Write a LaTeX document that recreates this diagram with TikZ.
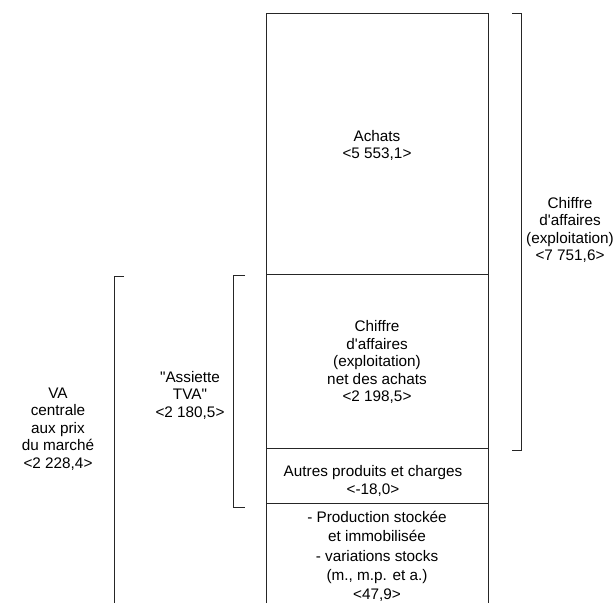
\documentclass[tikz,border=0pt]{standalone}
\usepackage{fontspec}
\setmainfont{Liberation Sans}[Ligatures=TeXOff]
\begin{document}
\begin{tikzpicture}[x=1pt,y=-1pt,
  ln/.style={line width=1pt,black!85},
  lbl/.style={align=center,inner sep=0pt,font=\fontsize{15.3}{17.5}\selectfont}]
\useasboundingbox (0,0) rectangle (616,603);
% main column
\coordinate (tl) at (266,13);
\coordinate (tr) at (488,13);
\coordinate (bl) at (266,603);
\coordinate (br) at (488,603);
\coordinate (l1) at (266,274); \coordinate (r1) at (488,274);
\coordinate (l2) at (266,448); \coordinate (r2) at (488,448);
\coordinate (l3) at (266,503); \coordinate (r3) at (488,503);
\draw[ln] (bl) -- (tl) -- (tr) -- (br);
\draw[ln] (l1) -- (r1);
\draw[ln] (l2) -- (r2);
\draw[ln] (l3) -- (r3);
% brackets
\coordinate (ca1) at (512,13); \coordinate (ca2) at (521,13);
\coordinate (ca3) at (521,450); \coordinate (ca4) at (512,450);
\draw[ln] (ca1) -- (ca2) -- (ca3) -- (ca4);
\coordinate (as1) at (245,275); \coordinate (as2) at (233,275);
\coordinate (as3) at (233,507); \coordinate (as4) at (245,507);
\draw[ln] (as1) -- (as2) -- (as3) -- (as4);
\coordinate (va1) at (124,276); \coordinate (va2) at (114,276);
\coordinate (va3) at (114,603);
\draw[ln] (va1) -- (va2) -- (va3);
% texts
\node[lbl] (achats) at (377,145.5) {Achats\\<5 553,1>};
\node[lbl] (canet) at (377,362) {Chiffre\\d'affaires\\(exploitation)\\net des achats\\<2 198,5>};
\node[lbl] (autres) at (373,481) {Autres produits et charges\\<-18,0>};
\node[lbl,font=\fontsize{15.3}{19.2}\selectfont] (prod) at (377,556.5) {- Production stockée\\et immobilisée\\- variations stocks\\(m., m.p. et a.)\\<47,9>};
\node[lbl] (ca) at (570,230) {Chiffre\\d'affaires\\(exploitation)\\<7 751,6>};
\node[lbl] (tva) at (190,395) {"Assiette\\TVA"\\<2 180,5>};
\node[lbl] (va) at (58,429) {VA\\centrale\\aux prix\\du marché\\<2 228,4>};
\end{tikzpicture}
\end{document}
